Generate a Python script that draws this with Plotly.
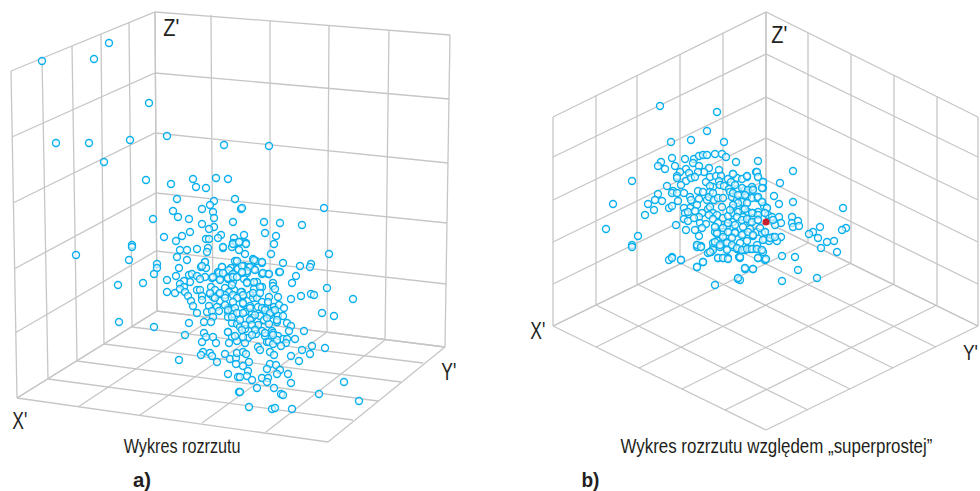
import json
import plotly.graph_objects as go

# ---- panel a: wireframe nodes
a_left_top = [(11,71),(42,58),(72,46),(101,34),(129,22),(155,12)]
a_left_bot = [(17,398),(48,379),(77,361),(104,344),(132,327),(157,311)]
a_right_top = [(155,12),(211,15),(270,21),(329,26),(389,30),(450,35)]
a_right_bot = [(157,311),(213,318),(270,325),(327,332),(385,340),(445,347)]
a_lvl_left = [(11,71),(12,137),(13,203),(14,269),(15,333),(17,398)]
a_lvl_back = [(155,12),(155,73),(155,133),(156,193),(156,251),(157,311)]
a_lvl_right = [(450,35),(449,99),(448,163),(447,223),(446,284),(445,347)]
a_floor_front = [(17,398),(78,407),(140,415),(202,423),(266,432),(328,442)]
a_floor_side = [(328,442),(353,420),(378,401),(401,382),(423,363),(445,347)]

# ---- panel b: wireframe nodes
b_left_top = [(553,117),(596,96),(637,75),(680,54),(723,33),(766,12)]
b_left_bot = [(553,326),(596,305),(637,284),(680,263),(723,243),(766,222)]
b_right_top = [(766,12),(808,33),(851,54),(894,75),(937,96),(978,117)]
b_right_bot = [(766,222),(808,243),(851,263),(894,284),(937,305),(978,326)]
b_lvl_left = [(553,117),(553,157),(553,200),(553,242),(553,284),(553,326)]
b_lvl_back = [(766,12),(766,54),(766,97),(766,138),(766,180),(766,222)]
b_lvl_right = [(978,117),(978,157),(978,200),(978,242),(978,284),(978,326)]
b_floor_front = [(553,326),(596,347),(639,368),(682,389),(725,410),(766,430)]
b_floor_side = [(766,430),(808,410),(850,389),(893,368),(936,347),(978,326)]

# ---- scatter values
a_x = [42,94,109,149,56,89,130,104,167,224,146,171,193,196,206,216,228,177,214,235,210,202,173,178,213,189,214,153,202,233,241,214,209,190,182,164,176,221,218,206,209,234,132,233,236,
269,324,242,264,280,302,265,276,244,246,274,240,
76,132,129,157,157,154,143,118,119,154,179,167,167,175,176,179,177,180,187,187,197,208,207,205,201,206,222,223,232,235,237,231,237,229,218,233,217,189,192,197,205,200,212,190,184,180,184,180,185,188,191,193,197,197,200,202,202,211,215,210,213,219,225,228,220,233,234,229,225,220,233,209,217,207,212,219,228,228,232,233,228,232,237,213,204,211,189,185,204,206,213,202,216,228,232,229,237,203,201,210,212,225,217,230,236,237,236,228,238,239,
329,271,245,253,256,262,283,300,311,310,244,254,248,247,262,268,279,296,244,247,254,257,273,292,262,254,273,275,327,242,243,250,253,257,269,278,291,301,311,314,353,262,243,250,258,265,274,279,284,273,245,252,260,270,278,283,322,334,252,264,277,269,287,291,289,304,251,245,256,262,272,240,256,265,273,278,283,287,286,295,248,267,269,273,277,281,245,258,260,270,274,291,302,312,325,310,299,243,246,249,243,270,276,267,280,277,248,247,288,291,262,268,267,252,240,257,274,281,283,344,319,359,240,249,272,275,292,
223,233,239,246,239,205,202,222,238,233,242,254,262,250,255,247,263,269,280,219,223,213,220,228,233,237,242,242,247,254,260,232,241,243,253,260,268,237,225,215,210,220,225,233,243,235,228,237,243,250,262,255,265,270,275,232,240,250,245,258,267,277,228,242,252,265,273,255,235,243,252]
a_y = [61,59,43,103,143,143,140,162,136,145,180,184,179,187,188,178,179,199,201,199,205,209,211,217,212,219,218,219,224,222,209,227,229,232,236,237,241,235,238,239,239,238,245,243,243,
146,208,208,222,223,225,233,236,235,243,244,242,
255,247,260,264,268,274,283,285,322,327,360,280,292,293,276,268,257,250,250,260,249,248,252,262,267,268,267,248,247,261,261,268,269,270,272,274,277,275,274,276,277,279,278,282,281,284,287,289,292,296,301,306,313,290,290,296,300,287,290,294,297,294,288,279,279,282,290,292,295,301,295,306,307,312,311,311,308,312,310,314,317,323,324,317,322,322,323,335,333,337,337,342,343,332,337,343,341,352,355,353,356,354,362,359,358,353,364,374,377,392,
254,254,254,259,261,263,263,266,264,267,266,269,267,273,274,274,272,276,279,282,283,282,283,283,287,289,286,289,288,292,296,295,298,298,297,297,299,296,294,295,299,302,304,306,307,308,307,305,308,311,312,314,316,315,316,316,313,316,318,320,322,324,323,326,331,331,324,329,329,331,331,327,334,336,333,336,339,339,343,339,338,342,342,344,340,346,343,347,350,352,355,356,350,346,348,354,361,352,354,362,366,364,365,369,370,374,371,376,374,383,378,378,382,380,377,388,388,394,395,382,394,401,392,407,409,408,409,
247,244,242,244,250,262,266,267,269,277,266,260,262,267,270,271,273,274,272,273,273,277,280,278,277,277,273,272,283,282,287,285,292,295,293,293,302,298,298,298,293,293,305,302,303,308,310,313,313,308,308,315,310,313,310,317,320,320,325,325,318,320,332,330,325,333,335,330,336,337,335]

b_x = [660,717,707,691,671,724,672,685,661,658,665,675,686,694,699,703,707,715,722,726,736,693,699,709,704,698,719,733,680,689,677,677,686,691,695,681,632,667,706,710,716,721,719,728,731,737,713,710,720,724,729,737,673,672,677,684,658,655,662,648,613,654,645,669,672,678,690,691,698,703,699,707,710,709,714,718,723,713,730,732,737,722,733,697,690,684,685,688,695,702,708,710,713,717,699,684,688,694,700,706,709,713,718,723,728,733,737,727,733,676,686,695,702,715,715,723,735,717,606,638,699,713,718,723,732,727,697,701,632,
758,793,756,758,747,763,780,763,742,753,752,745,746,774,758,757,762,779,793,747,747,742,764,767,843,743,748,758,753,768,779,792,772,792,798,781,775,773,753,743,758,750,743,793,799,820,813,809,818,846,842,834,827,750,757,765,762,743,753,781,773,765,769,777,747,757,740,
672,669,681,703,697,715,738,718,723,728,727,713,711,708,739,720,697,701,632,737,733,
821,837,782,795,798,817,782,745,753,740,758,765,740,745,750,756,761,763,
733,747,757,758,763,762,735,742,748,753,733,738,745,752,758,762,767,747,738,733,730,738,745,752,758,737,742,747,752,758,765,735,728,723,728,735,742,748,753,760,765,770,775,763,717,715,723,732,715,720,727,732,737,742,747,752,757,762,727,713,710,697,701,718,723,728,740,758,766,745,753,697,703,738,681,672]
b_y = [106,112,131,140,142,142,158,159,162,166,169,166,169,159,156,155,155,154,154,157,162,163,166,168,172,172,170,174,172,173,176,178,181,178,177,185,181,186,182,177,176,176,181,179,182,178,187,186,185,186,189,189,191,193,193,193,194,200,201,204,204,210,215,208,206,201,197,200,191,192,199,200,192,197,200,198,198,193,192,197,200,207,208,205,208,208,213,212,211,213,209,207,213,215,217,219,221,218,223,224,215,219,223,218,216,213,217,226,222,225,230,230,228,227,232,232,232,234,229,236,236,243,241,242,237,242,245,246,245,
161,171,172,177,177,182,183,188,179,189,187,190,193,196,197,198,202,204,202,197,203,202,206,208,208,210,212,212,213,215,217,217,217,223,221,223,225,220,218,217,220,222,227,227,226,227,232,234,238,228,230,241,242,229,232,232,233,234,236,237,237,239,241,241,241,245,243,
257,260,260,262,267,285,279,258,258,258,249,248,252,253,257,247,247,247,247,249,247,
248,252,256,257,270,278,281,269,269,280,258,260,258,250,249,249,250,252,
174,176,172,177,182,188,185,188,190,190,193,195,195,198,197,202,208,203,203,205,210,212,209,213,215,217,220,219,222,220,213,225,223,228,232,233,235,232,235,228,232,238,237,240,233,227,237,238,242,245,243,245,248,250,249,249,249,250,250,250,252,245,247,258,258,259,257,258,259,268,269,267,262,278,260,258]

red_x = [766]
red_y = [222]

titles = ["Wykres rozrzutu", "Wykres rozrzutu względem „superprostej”"]
GRID = "#c6c6c8"
BLUE = "#0cb0ee"
INK = "#231f20"
FONT = "Liberation Sans"


def wire(*pairs):
    xs, ys = [], []
    for first, *rest in pairs:
        for nodes in zip(first, *rest):
            for x, y in nodes:
                xs.append(x)
                ys.append(y)
            xs.append(None)
            ys.append(None)
    return xs, ys


wa = wire(
    (a_left_top, a_left_bot), (a_right_top, a_right_bot),
    (a_lvl_left, a_lvl_back, a_lvl_right),
    (a_floor_front, a_right_bot), (a_left_bot, a_floor_side),
)
wb = wire(
    (b_left_top, b_left_bot), (b_right_top, b_right_bot),
    (b_lvl_left, b_lvl_back, b_lvl_right),
    (b_floor_front, b_right_bot), (b_left_bot, b_floor_side),
)

fig = go.Figure()
for w in (wa, wb):
    fig.add_trace(go.Scatter(x=w[0], y=w[1], mode="lines",
                             line=dict(color=GRID, width=1.3), hoverinfo="skip"))
marker = dict(symbol="circle", size=7, color="rgba(255,255,255,0.6)",
              line=dict(color=BLUE, width=1.4))
fig.add_trace(go.Scatter(x=a_x, y=a_y, mode="markers", marker=marker))
fig.add_trace(go.Scatter(x=b_x, y=b_y, mode="markers", marker=marker))
fig.add_trace(go.Scatter(x=red_x, y=red_y, mode="markers",
                         marker=dict(size=7, color="#c8202c")))

# text, x centre, y centre, size, bold, drawn width
labels = [
    ("Z'", 171, 28, 23, False, 16), ("X'", 20, 421, 23, False, 15), ("Y'", 449, 372, 23, False, 15),
    ("Z'", 779, 35, 23, False, 16), ("X'", 538, 331, 23, False, 15), ("Y'", 970, 352, 22, False, 15),
    (titles[0], 182, 446, 20, False, 117), (titles[1], 776, 446, 20, False, 312),
    ("a)", 142, 480, 20, True, 18), ("b)", 590, 480, 20, True, 18),
]
for text, x, y, size, bold, _ in labels:
    fig.add_annotation(x=x, y=y, text=f"<b>{text}</b>" if bold else text, showarrow=False,
                       font=dict(family=FONT, size=size, color=INK))

fig.update_layout(
    width=980, height=491, margin=dict(l=0, r=0, t=0, b=0),
    paper_bgcolor="white", plot_bgcolor="white", showlegend=False,
    xaxis=dict(range=[0, 980], visible=False, fixedrange=True),
    yaxis=dict(range=[491, 0], visible=False, fixedrange=True),
)
widths = json.dumps([row[5] for row in labels])
post = (
    "document.body.style.margin='0';document.body.style.overflow='hidden';"
    f"var W={widths};"
    "document.querySelectorAll('.annotation-text').forEach(function(t,i){"
    "t.setAttribute('lengthAdjust','spacingAndGlyphs');"
    "t.setAttribute('textLength',W[i]);});"
)
fig.write_html("out.html", post_script=post, config={"displayModeBar": False})
